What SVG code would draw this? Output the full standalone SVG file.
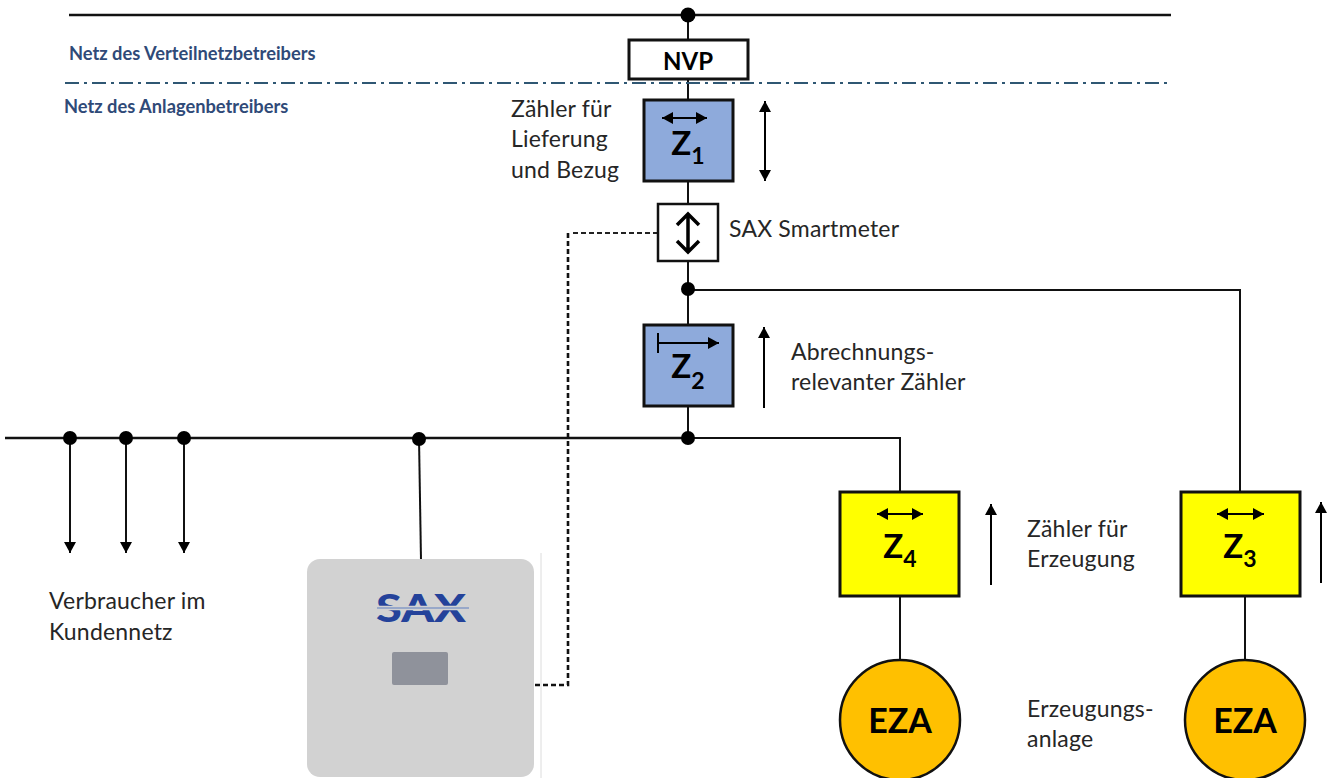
<svg xmlns="http://www.w3.org/2000/svg" width="1330" height="778" viewBox="0 0 1330 778">
<defs>
<marker id="ah" markerUnits="userSpaceOnUse" markerWidth="14" markerHeight="14" refX="11" refY="6" orient="auto-start-reverse"><path d="M0 0L11 6L0 12Z" fill="#000"/></marker>
</defs>
<style>
text{font-family:"Lato","Carlito","Open Sans",sans-serif;fill:#262626}
.lbl{font-size:23px;letter-spacing:.2px}
.net{font-size:18.3px;font-weight:700;fill:#2f4a78}
.big{font-weight:700;fill:#000;text-anchor:middle}
.w{fill:none;stroke:#111;stroke-width:2}
.bus{fill:none;stroke:#111;stroke-width:2.6}
.box{stroke:#111;stroke-width:3}
.dot{fill:#000}
.a{fill:none;stroke:#000;stroke-width:2}
</style>
<rect width="1330" height="778" fill="#fff"/>
<g id="connectors">
<path class="bus" d="M69 15H1171M5 438H688"/>
<path class="w" d="M688 15V325M688 290H1240V492M688 406V438M688 438H900V492"/>
<path class="w" d="M70 438V553" marker-end="url(#ah)"/>
<path class="w" d="M126 438V553" marker-end="url(#ah)"/>
<path class="w" d="M184 438V553" marker-end="url(#ah)"/>
<path class="w" d="M419 438L421 560"/>
<path class="w" d="M900 596V661M1245 596V661"/>
<path d="M65 83H1171" fill="none" stroke="#2f5773" stroke-width="2.2" stroke-dasharray="14 5 3 5"/>
<path d="M658 233H570" fill="none" stroke="#222" stroke-width="1.8" stroke-dasharray="5 3"/>
<path d="M568 233V685H533" fill="none" stroke="#111" stroke-width="2.6" stroke-dasharray="5 3"/>
<path class="a" d="M765 101V181" marker-start="url(#ah)" marker-end="url(#ah)"/>
<path class="a" d="M764 408V327" marker-end="url(#ah)"/>
<path class="a" d="M991 585V504" marker-end="url(#ah)"/>
<path class="a" d="M1321 583V502" marker-end="url(#ah)"/>
</g>
<circle class="dot" cx="688" cy="15" r="7.5"/>
<circle class="dot" cx="688" cy="289" r="7"/>
<circle class="dot" cx="688" cy="438" r="7"/>
<circle class="dot" cx="70" cy="438" r="7"/>
<circle class="dot" cx="126" cy="438" r="7"/>
<circle class="dot" cx="184" cy="438" r="7"/>
<circle class="dot" cx="419" cy="439" r="7"/>
<text class="net" x="69" y="60">Netz des Verteilnetzbetreibers</text>
<text class="net" x="64" y="113">Netz des Anlagenbetreibers</text>
<g id="nvp">
<rect class="box" x="629" y="40" width="119" height="39" fill="#fff"/>
<text class="big" x="688" y="70" font-size="24">NVP</text>
</g>
<g id="z1">
<rect class="box" x="644" y="100" width="89" height="81" fill="#8eaadb"/>
<path class="a" d="M662 118H707" marker-start="url(#ah)" marker-end="url(#ah)"/>
<text class="big" x="688" y="155" font-size="33">Z<tspan font-size="23" dy="9">1</tspan></text>
<text class="lbl" x="511" y="117">Zähler für</text>
<text class="lbl" x="511" y="147">Lieferung</text>
<text class="lbl" x="511" y="178">und Bezug</text>
</g>
<g id="smartmeter">
<rect x="658" y="204" width="60" height="57" fill="#fff" stroke="#111" stroke-width="2.5"/>
<path d="M688 214V251M677 225L688 214L699 225M677 241L688 252L699 241" fill="none" stroke="#000" stroke-width="3.5"/>
<text class="lbl" x="729" y="237">SAX Smartmeter</text>
</g>
<g id="z2">
<rect class="box" x="644" y="325" width="89" height="81" fill="#8eaadb"/>
<path class="a" d="M658 333V353M658 343H719" marker-end="url(#ah)"/>
<text class="big" x="688" y="378" font-size="33">Z<tspan font-size="23" dy="11">2</tspan></text>
<text class="lbl" x="791" y="360">Abrechnungs-</text>
<text class="lbl" x="791" y="390">relevanter Zähler</text>
</g>
<g id="z4">
<rect class="box" x="840" y="492" width="119" height="104" fill="#ff0"/>
<path class="a" d="M877 514H923" marker-start="url(#ah)" marker-end="url(#ah)"/>
<text class="big" x="900" y="558" font-size="33">Z<tspan font-size="23" dy="9">4</tspan></text>
<text class="lbl" x="1027" y="537">Zähler für</text>
<text class="lbl" x="1027" y="567">Erzeugung</text>
</g>
<g id="z3">
<rect class="box" x="1181" y="492" width="119" height="104" fill="#ff0"/>
<path class="a" d="M1217 514H1264" marker-start="url(#ah)" marker-end="url(#ah)"/>
<text class="big" x="1240" y="558" font-size="33">Z<tspan font-size="23" dy="9">3</tspan></text>
</g>
<g id="eza1">
<circle cx="900" cy="720" r="60" fill="#ffc000" stroke="#111" stroke-width="2.5"/>
<text class="big" x="900" y="733" font-size="34">EZA</text>
<text class="lbl" x="1027" y="717">Erzeugungs-</text>
<text class="lbl" x="1027" y="747">anlage</text>
</g>
<g id="eza2">
<circle cx="1245" cy="720" r="60" fill="#ffc000" stroke="#111" stroke-width="2.5"/>
<text class="big" x="1245" y="733" font-size="34">EZA</text>
</g>
<g id="verbraucher">
<text class="lbl" x="49" y="609">Verbraucher im</text>
<text class="lbl" x="49" y="640">Kundennetz</text>
</g>
<g id="inverter">
<path d="M541 553V778" stroke="#dcdcdc" stroke-width="1" fill="none"/>
<rect x="307" y="559" width="227" height="218" rx="13" fill="#d2d2d2"/>
<text x="421" y="622" text-anchor="middle" font-size="37" font-weight="900" textLength="90" lengthAdjust="spacingAndGlyphs" style="fill:#24429a">SAX</text>
<path d="M377 608H469" stroke="#d2d2d2" stroke-width="4.5"/>
<path d="M377 608H469" stroke="#5f7fc0" stroke-width="1.2"/>
<rect x="392" y="652" width="56" height="33" rx="2" fill="#8f929b"/>
</g>
</svg>
